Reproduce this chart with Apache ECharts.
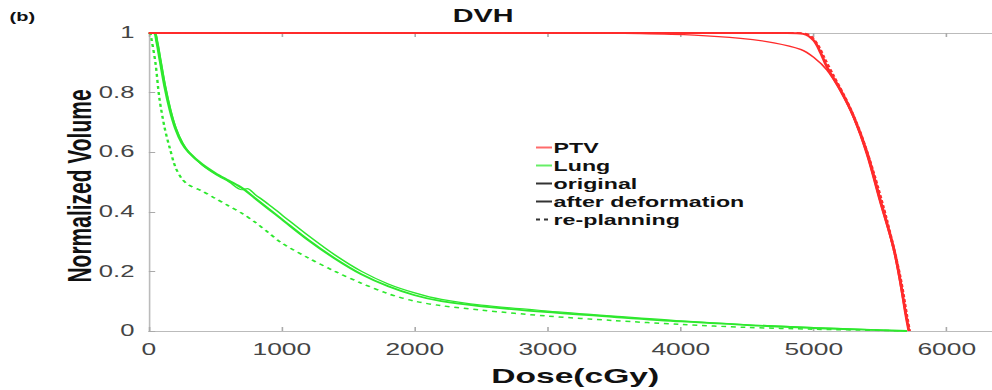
<!DOCTYPE html>
<html><head><meta charset="utf-8">
<script src="https://cdn.jsdelivr.net/npm/echarts@6/dist/echarts.min.js"></script>
<style>
html,body{margin:0;padding:0;background:#fff;overflow:hidden;width:992px;height:390px}
#c{width:620px;height:390px;transform:scaleX(1.6);transform-origin:0 0}
</style>
</head><body><div id="c"></div>
<script>
// ---- data (dose in cGy, normalized volume) ----
const xTicks = [0, 1000, 2000, 3000, 4000, 5000, 6000];
const yTicks = [0, 0.2, 0.4, 0.6, 0.8, 1];

const ptvOrigDose = [0, 4800, 4920, 5000, 5050, 5100, 5200, 5300, 5400, 5500, 5600, 5650, 5690, 5715];
const ptvOrigVol  = [1, 1, 0.997, 0.975, 0.935, 0.885, 0.81, 0.72, 0.6, 0.44, 0.28, 0.17, 0.06, 0];

const ptvDefDose = [0, 3200, 3700, 4100, 4450, 4700, 4900, 5000, 5100, 5200, 5300, 5400, 5500, 5600, 5690, 5715];
const ptvDefVol  = [1, 1, 0.998, 0.993, 0.982, 0.967, 0.945, 0.918, 0.875, 0.805, 0.715, 0.59, 0.43, 0.275, 0.06, 0];

const ptvReDose = [0, 4850, 4960, 5030, 5080, 5150, 5250, 5350, 5450, 5550, 5650, 5700, 5720];
const ptvReVol  = [1, 1, 0.995, 0.96, 0.915, 0.855, 0.77, 0.665, 0.53, 0.37, 0.18, 0.05, 0];

const lungOrigDose = [0, 40, 60, 80, 120, 160, 200, 250, 300, 400, 500, 600, 700, 800, 900, 1000, 1200, 1400, 1600, 1800, 2000, 2200, 2500, 3000, 3500, 4000, 4500, 5000, 5500, 5700];
const lungOrigVol  = [1, 1, 0.97, 0.92, 0.82, 0.74, 0.68, 0.63, 0.6, 0.56, 0.53, 0.505, 0.48, 0.445, 0.41, 0.375, 0.305, 0.243, 0.19, 0.15, 0.12, 0.1, 0.083, 0.063, 0.047, 0.032, 0.02, 0.01, 0.003, 0];

const lungDefDose = [0, 45, 65, 85, 125, 165, 205, 255, 305, 405, 505, 605, 700, 740, 800, 900, 1000, 1200, 1400, 1600, 1800, 2000, 2200, 2500, 3000, 3500, 4000, 4500, 5000, 5500, 5700];
const lungDefVol  = [1, 1, 0.97, 0.92, 0.82, 0.74, 0.68, 0.63, 0.598, 0.556, 0.525, 0.5, 0.474, 0.478, 0.458, 0.425, 0.39, 0.32, 0.255, 0.2, 0.158, 0.128, 0.106, 0.087, 0.067, 0.05, 0.034, 0.021, 0.011, 0.003, 0];

const lungReDose = [0, 10, 20, 50, 80, 120, 160, 200, 250, 300, 400, 500, 600, 700, 800, 900, 1000, 1200, 1400, 1600, 1800, 2000, 2200, 2500, 3000, 3500, 4000, 4500, 5000, 5500, 5700];
const lungReVol  = [1, 1, 0.98, 0.9, 0.78, 0.68, 0.61, 0.55, 0.51, 0.49, 0.47, 0.445, 0.42, 0.395, 0.365, 0.33, 0.295, 0.245, 0.2, 0.16, 0.125, 0.1, 0.085, 0.07, 0.05, 0.035, 0.022, 0.012, 0.006, 0.002, 0];

const legendNames = ['PTV', 'Lung', 'original', 'after deformation', 're-planning'];

// ---- build ----
const pair = (d, v) => d.map((x, i) => [x, v[i]]);
const RED = '#ff2b2b', GREEN = '#2ee82e';
function line(name, d, v, color, width, type) {
  return { name: name, type: 'line', data: pair(d, v), symbol: 'none', smooth: 0.3,
    lineStyle: { color: color, width: width, type: type }, itemStyle: { color: color },
    silent: true, z: 3 };
}
function dummy(name, color, type, width) {
  return { name: name, type: 'line', data: [], symbol: 'none',
    lineStyle: { color: color, width: width, type: type }, itemStyle: { color: color } };
}
const chart = echarts.init(document.getElementById('c'), null, { renderer: 'svg' });
const txt = '"Liberation Sans", Arial, sans-serif';
const axisCommon = {
  axisLine: { show: true, lineStyle: { color: '#bbb', width: 1 } },
  axisTick: { show: true, inside: true, length: 4, lineStyle: { color: '#aaa' } },
  splitLine: { show: false }
};
chart.setOption({
  animation: false,
  backgroundColor: '#fff',
  grid: { left: 93, top: 33, right: 0, bottom: 59, containLabel: false },
  xAxis: [Object.assign({
    type: 'value', min: 0, max: 6340, interval: 1000,
    axisLabel: { color: '#444', fontSize: 16.5, fontFamily: txt, margin: 10, showMaxLabel: false,
      formatter: v => xTicks.includes(v) ? String(v) : '' }
  }, axisCommon), Object.assign({
    type: 'value', position: 'top', min: 0, max: 6340, interval: 1000,
    axisLabel: { show: false }
  }, axisCommon)],
  yAxis: Object.assign({
    type: 'value', min: 0, max: 1, interval: 0.2,
    axisLabel: { color: '#444', fontSize: 16, fontFamily: txt, margin: 9,
      formatter: v => yTicks.some(t => Math.abs(t - v) < 1e-9) ? String(+v.toFixed(1)) : '' }
  }, axisCommon),
  legend: {
    left: 329, top: 135, orient: 'vertical', itemGap: 3, itemWidth: 10, itemHeight: 14,
    data: legendNames, selectedMode: false,
    itemStyle: { opacity: 0 },
    textStyle: { color: '#111', fontSize: 14.5, fontWeight: 'bold', fontFamily: txt, padding: [0, 0, 0, -4] }
  },
  graphic: [
    { type: 'text', x: 302, y: 16, style: { text: 'DVH', fontSize: 18, fontWeight: 'bold', fontFamily: txt, fill: '#111', align: 'center', verticalAlign: 'middle' } },
    { type: 'text', x: 6, y: 17, style: { text: '(b)', fontSize: 12.5, fontWeight: 'bold', fontFamily: txt, fill: '#111', verticalAlign: 'middle' } },
    { type: 'text', x: 307, y: 376, style: { text: 'Dose(cGy)', fontSize: 21, fontWeight: 'bold', fontFamily: txt, fill: '#111', verticalAlign: 'middle' } },
    { type: 'text', x: 50, y: 186, rotation: Math.PI / 2,
      style: { text: 'Normalized Volume', fontSize: 21, fontWeight: 'bold', fontFamily: txt, fill: '#111', align: 'center', verticalAlign: 'middle' } }
  ],
  series: [
    line('Lung original', lungOrigDose, lungOrigVol, GREEN, 1.8, 'solid'),
    line('Lung after deformation', lungDefDose, lungDefVol, GREEN, 1.2, 'solid'),
    line('Lung re-planning', lungReDose, lungReVol, GREEN, 1.5, [3, 3]),
    line('PTV after deformation', ptvDefDose, ptvDefVol, RED, 1.2, 'solid'),
    line('PTV original', ptvOrigDose, ptvOrigVol, RED, 1.8, 'solid'),
    line('PTV re-planning', ptvReDose, ptvReVol, RED, 1.8, [3, 2]),
    dummy('PTV', '#ff6b6b', 'solid', 1.5),
    dummy('Lung', '#66ee66', 'solid', 1.5),
    dummy('original', '#333', 'solid', 1.2),
    dummy('after deformation', '#333', 'solid', 0.8),
    dummy('re-planning', '#333', [2.5, 2.5], 1.2)
  ]
});
</script></body></html>
